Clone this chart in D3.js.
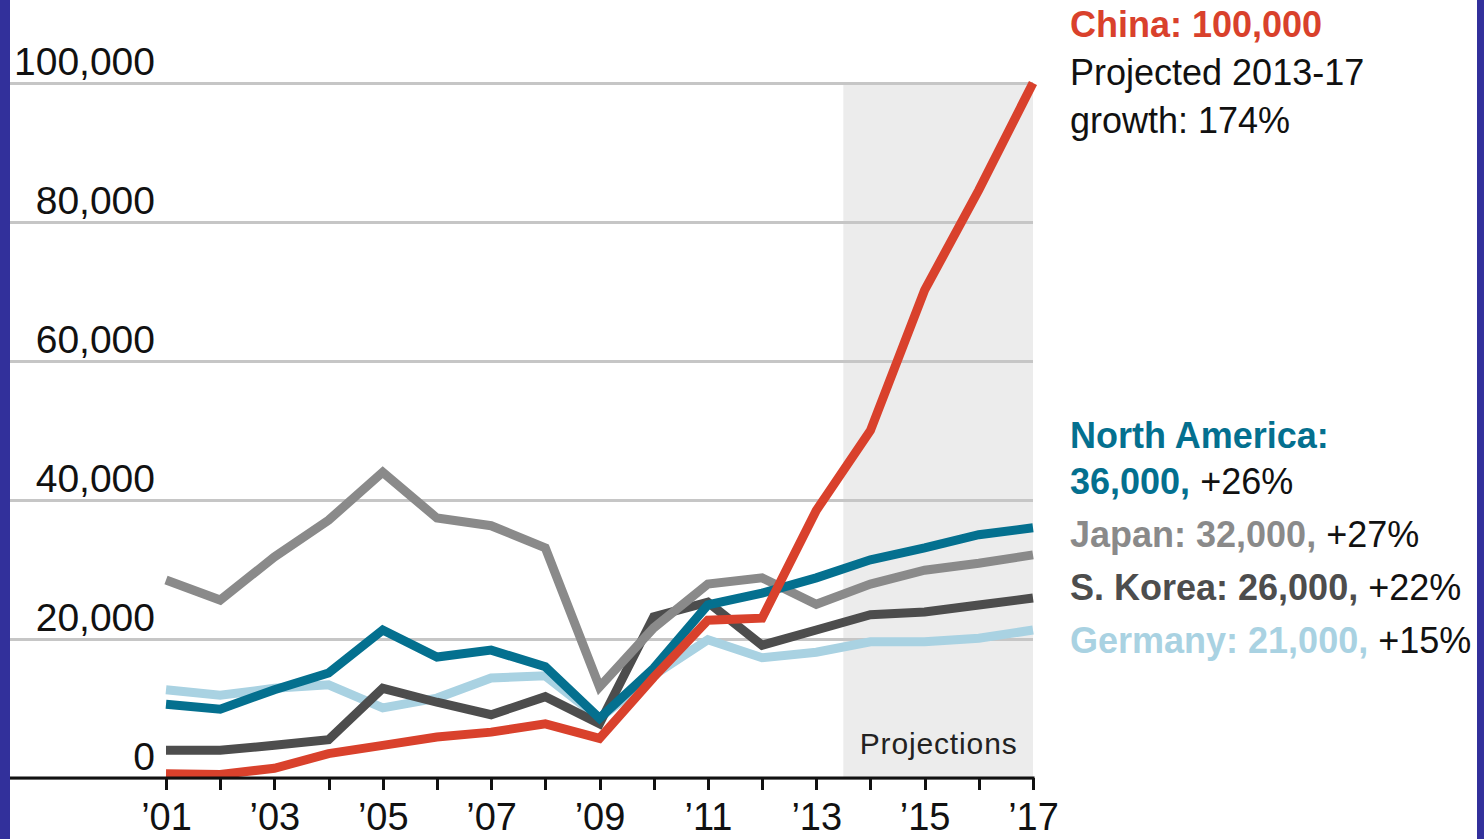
<!DOCTYPE html>
<html>
<head>
<meta charset="utf-8">
<script src="https://cdn.jsdelivr.net/npm/d3@7"></script>
<style>
  body { margin: 0; background: #ffffff; }
  svg { display: block; }
  .tick line { shape-rendering: crispEdges; }
</style>
</head>
<body>
<script>
// years on the x axis
var years = [2001, 2002, 2003, 2004, 2005, 2006, 2007, 2008, 2009,
             2010, 2011, 2012, 2013, 2014, 2015, 2016, 2017]

// series values
var china = [600, 500, 1400, 3500, 4700, 5900, 6600, 7800, 5700,
             14500, 22700, 23000, 38500, 50000, 70200, 84600, 100000]
var northAmerica = [10600, 9900, 12700, 15100, 21300, 17400, 18400, 16000, 8600,
                    15800, 24900, 26600, 28800, 31400, 33100, 35000, 36000]
var japan = [28500, 25600, 31800, 37100, 44000, 37400, 36300, 33100, 13100,
             21600, 27900, 28800, 25000, 27900, 29900, 30900, 32100]
var sKorea = [4000, 4000, 4700, 5500, 12900, 10900, 9100, 11700, 7800,
              23200, 25300, 19100, 21300, 23500, 23900, 24900, 25900]
var germany = [12700, 11900, 12900, 13400, 10100, 11500, 14400, 14700, 8600,
               14800, 19900, 17300, 18100, 19600, 19600, 20100, 21300]

var yTicks = [0, 20000, 40000, 60000, 80000, 100000]
var xLabelYears = [2001, 2003, 2005, 2007, 2009, 2011, 2013, 2015, 2017]
var projectionStart = 2013.5

// annotation text on the right
var chinaNote = ["China: 100,000", "Projected 2013-17", "growth: 174%"]
var seriesNotes = [
  {lines: [["North America:", ""], ["36,000,", " +26%"]], color: "#04708f"},
  {lines: [["Japan: 32,000,", " +27%"]], color: "#8a8a8a"},
  {lines: [["S. Korea: 26,000,", " +22%"]], color: "#4d4d4d"},
  {lines: [["Germany: 21,000,", " +15%"]], color: "#a9d2e2"}
]

var w = 1484
var h = 839
var margins = {left: 10, right: 451, upper: 83, lower: 61}
var font = "'Liberation Sans', Arial, sans-serif"

var svg = d3.select("body")
            .append("svg")
            .attr("width", w)
            .attr("height", h)

// border strips
svg.append("rect").attr("x", 0).attr("y", 0).attr("width", 10).attr("height", h).attr("fill", "#32309b")
svg.append("rect").attr("x", 1477).attr("y", 0).attr("width", 7).attr("height", h).attr("fill", "#32309b")

var xScale = d3.scaleLinear()
               .domain([2001, 2017])
               .range([166, w - margins.right])
var yScale = d3.scaleLinear()
               .domain([0, 100000])
               .range([h - margins.lower, margins.upper])

// projections shading
svg.append("rect")
   .attr("x", xScale(projectionStart))
   .attr("y", yScale(100000))
   .attr("width", xScale(2017) - xScale(projectionStart))
   .attr("height", yScale(0) - yScale(100000))
   .attr("fill", "#ececec")

svg.append("text")
   .attr("x", (xScale(projectionStart) + xScale(2017)) / 2)
   .attr("y", yScale(0) - 24)
   .attr("text-anchor", "middle")
   .style("font-family", font)
   .style("font-size", "30px")
   .attr("fill", "#222")
   .attr("textLength", 157)
   .text("Projections")

// gridlines + y labels
var yAxis = svg.append("g")
   .attr("transform", "translate(" + margins.left + ",0)")
   .call(d3.axisRight(yScale)
           .tickValues(yTicks)
           .tickSize(xScale(2017) - margins.left)
           .tickFormat(d3.format(",")))
yAxis.select(".domain").remove()
yAxis.selectAll(".tick line").attr("stroke", "#c6c6c6").attr("stroke-width", 2.5)
yAxis.selectAll(".tick text")
     .attr("x", 145)
     .attr("dy", "-9")
     .attr("text-anchor", "end")
     .style("font-family", font)
     .style("font-size", "39px")
     .attr("fill", "#111")

// lines
var line = d3.line()
             .x(function(d, i) { return xScale(years[i]) })
             .y(function(d) { return yScale(d) })

var series = [
  {values: germany, color: "#a9d2e2"},
  {values: sKorea, color: "#4d4d4d"},
  {values: japan, color: "#8a8a8a"},
  {values: northAmerica, color: "#04708f"},
  {values: china, color: "#d9412c"}
]

svg.selectAll(".series")
   .data(series)
   .enter()
   .append("path")
   .attr("class", "series")
   .attr("d", function(d) { return line(d.values) })
   .attr("fill", "none")
   .attr("stroke", function(d) { return d.color })
   .attr("stroke-width", 9)
   .attr("stroke-linejoin", "miter")

// x axis
var xAxis = svg.append("g")
   .attr("transform", "translate(0," + yScale(0) + ")")
   .call(d3.axisBottom(xScale)
           .tickValues(years)
           .tickSize(12)
           .tickFormat(function(d) {
              return xLabelYears.indexOf(d) >= 0 ? "\u2019" + String(d).slice(2) : ""
           }))
xAxis.select(".domain").remove()
xAxis.append("line")
     .attr("x1", margins.left)
     .attr("x2", xScale(2017) + 1.5)
     .attr("stroke", "#111")
     .attr("stroke-width", 3)
xAxis.selectAll(".tick line").attr("stroke", "#111").attr("stroke-width", 3)
xAxis.selectAll(".tick text")
     .attr("y", 52)
     .attr("dy", 0)
     .style("font-family", font)
     .style("font-size", "38px")
     .attr("fill", "#111")

// right side annotations
var noteX = 1070
var china_g = svg.append("g").style("font-family", font).style("font-size", "36px")
china_g.selectAll("text")
   .data(chinaNote)
   .enter()
   .append("text")
   .attr("x", noteX)
   .attr("y", function(d, i) { return 37 + i * 48 })
   .attr("fill", function(d, i) { return i === 0 ? "#d9412c" : "#111" })
   .style("font-weight", function(d, i) { return i === 0 ? "bold" : "normal" })
   .text(function(d) { return d })

var noteY = 448
seriesNotes.forEach(function(note, k) {
  note.lines.forEach(function(parts, j) {
    var t = svg.append("text")
               .attr("x", noteX)
               .attr("y", noteY)
               .style("font-family", font)
               .style("font-size", "36px")
    t.append("tspan").attr("fill", note.color).style("font-weight", "bold").text(parts[0])
    t.append("tspan").attr("fill", "#111").text(parts[1])
    noteY += (j === 0 && note.lines.length > 1) ? 46 : 53
  })
})
</script>
</body>
</html>
